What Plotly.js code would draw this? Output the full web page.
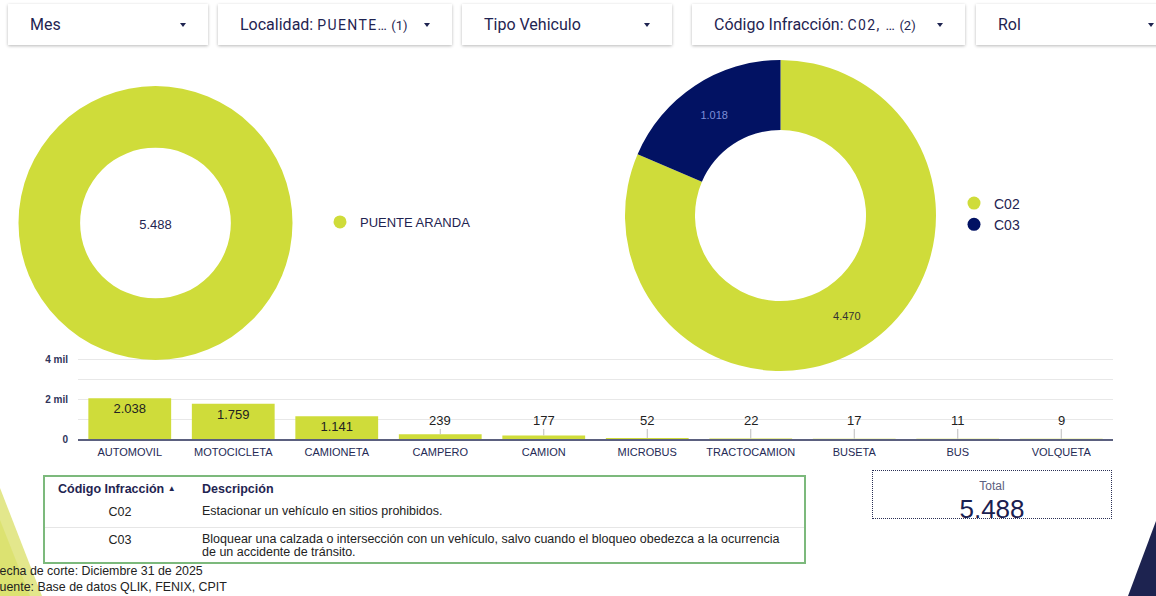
<!DOCTYPE html>
<html><head><meta charset="utf-8">
<script src="https://cdn.plot.ly/plotly-3.0.1.min.js"></script>
<style>
html,body{margin:0;padding:0;width:1156px;height:596px;overflow:hidden;background:#fff;font-family:"Liberation Sans",Arial,sans-serif;}
#deco{position:absolute;left:0;top:0;width:1156px;height:596px;z-index:0;}
#chart{position:absolute;left:0;top:0;width:1156px;height:596px;z-index:1;}
.ov{position:absolute;z-index:2;}
.filter{top:4px;height:41px;background:#fff;box-shadow:0 1px 3px rgba(0,0,0,0.28);font-family:Roboto,"Liberation Sans",sans-serif;color:#1f2451;font-size:16px;line-height:41px;box-sizing:border-box;padding-left:22px;white-space:nowrap;}
.filter .sub{font-size:14px;letter-spacing:1.4px;}
.filter .cnt{font-size:13px;margin-left:3px;}
.filter .arr{position:absolute;top:19px;width:0;height:0;border-left:3.5px solid transparent;border-right:3.5px solid transparent;border-top:4px solid #1f2451;}
.tbl{left:43px;top:475px;width:763px;height:89px;border:2px solid #7cb97c;box-sizing:border-box;font-family:"Liberation Sans",Arial,sans-serif;font-size:12.5px;color:#222;background:#fff;}
.tbl div{position:absolute;}
.hdr{font-weight:bold;color:#1f2451;}
.sep{left:0;right:0;height:1px;background:#e6e6e6;}
.total{left:872px;top:470px;width:240px;height:49px;border:1px dotted #2a2f55;box-sizing:border-box;text-align:center;font-family:"Liberation Sans",Arial,sans-serif;}
.foot{left:-8px;font-family:"Liberation Sans",Arial,sans-serif;font-size:12.4px;color:#222;}
</style>
</head><body>
<svg id="deco" width="1156" height="596">
  <polygon points="0,488 42,596 0,596" fill="#e3e78c"/>
  <polygon points="0,520 30,596 0,596" fill="#d5dd55" opacity="0.5"/>
  <polygon points="1156,521 1128,596 1156,596" fill="#1d2350"/>
</svg>
<div id="chart"></div>
<div id="filters"></div>
<div id="table" class="ov tbl"></div>
<div id="total" class="ov total"></div>
<div id="footer"></div>
<script>
// ---- data ----
var localidades = ["PUENTE ARANDA"];
var localidadValues = [5488];

var codigos = ["C02", "C03"];
var codigoValues = [4470, 1018];

var tiposVehiculo = ["AUTOMOVIL","MOTOCICLETA","CAMIONETA","CAMPERO","CAMION","MICROBUS","TRACTOCAMION","BUSETA","BUS","VOLQUETA"];
var tipoValues = [2038, 1759, 1141, 239, 177, 52, 22, 17, 11, 9];

var yTickVals = [0, 2000, 4000];
var yTickText = ["0", "2 mil", "4 mil"];

var tablaCodigos = ["C02", "C03"];
var tablaDescripciones = [
  "Estacionar un vehículo en sitios prohibidos.",
  "Bloquear una calzada o intersección con un vehículo, salvo cuando el bloqueo obedezca a la ocurrencia de un accidente de tránsito."
];

var filtros = [
  {label:"Mes", sub:"", cnt:""},
  {label:"Localidad: ", sub:"PUENTE…", cnt:"(1)"},
  {label:"Tipo Vehiculo", sub:"", cnt:""},
  {label:"Código Infracción: ", sub:"C02, …", cnt:"(2)"},
  {label:"Rol", sub:"", cnt:""}
];
var footerLines = ["Fecha de corte: Diciembre 31 de 2025", "Fuente: Base de datos QLIK, FENIX, CPIT"];

// ---- helpers ----
function fmt(n){ return String(n).replace(/\B(?=(\d{3})+(?!\d))/g, "."); }
function sum(a){ return a.reduce(function(s,v){return s+v;},0); }

var LIME = "#cfdc3a", NAVY = "#021263", TXT = "#1f2451";
var W = 1156, H = 596;
function px(x){ return x / W; }
function py(y){ return 1 - y / H; }

// ---- filters (HTML) ----
var fBoxes = [[8,208],[218,452],[462,672],[692,965],[976,1166]];
var fh = "";
filtros.forEach(function(f, i){
  var b = fBoxes[i];
  fh += '<div class="ov filter" style="left:'+b[0]+'px;width:'+(b[1]-b[0])+'px">' + f.label +
        (f.sub ? '<span class="sub">'+f.sub+'</span>' : '') +
        (f.cnt ? '<span class="cnt">'+f.cnt+'</span>' : '') +
        '<span class="arr" style="right:'+(i===4?12:22)+'px"></span></div>';
});
document.getElementById("filters").innerHTML = fh;

// ---- table (HTML) ----
var th = '<div class="hdr" style="left:13px;top:5px">Código Infracción <span style="font-size:8px;position:relative;top:-2px">▲</span></div>' +
         '<div class="hdr" style="left:157px;top:5px">Descripción</div>';
var rowTops = [28, 56];
tablaCodigos.forEach(function(c, i){
  th += '<div style="left:40px;width:70px;text-align:center;top:'+rowTops[i]+'px">'+c+'</div>';
  th += '<div style="left:157px;width:590px;top:'+rowTops[i]+'px;line-height:13px">'+tablaDescripciones[i]+'</div>';
});
th += '<div class="sep" style="top:50px"></div>';
document.getElementById("table").innerHTML = th;

// ---- total (HTML) ----
document.getElementById("total").innerHTML =
  '<div style="font-size:12px;color:#5c6080;margin-top:8px;line-height:14px">Total</div>' +
  '<div style="font-size:26px;color:#1a2050;line-height:26px;margin-top:3px">'+fmt(sum(codigoValues))+'</div>';

// ---- footer ----
var ft = "";
footerLines.forEach(function(t, i){
  ft += '<div class="ov foot" style="top:'+(564+i*16)+'px">'+t+'</div>';
});
document.getElementById("footer").innerHTML = ft;

// ---- plotly ----
var threshold = 500;
var barText = tipoValues.map(function(v){ return v >= threshold ? fmt(v) : ""; });

var traces = [
  {
    type: "pie", labels: localidades, values: localidadValues,
    hole: 0.55, sort: false, direction: "clockwise", rotation: 0,
    marker: {colors: [LIME], line: {width: 0}},
    textinfo: "none", showlegend: false,
    domain: {x: [px(18), px(293)], y: [py(360), py(86)]},
    title: {text: fmt(sum(localidadValues)), position: "middle center",
            font: {size: 13, color: TXT, family: "Liberation Sans, Arial"}}
  },
  {
    type: "pie", labels: codigos, values: codigoValues,
    hole: 0.55, sort: false, direction: "clockwise", rotation: 0,
    marker: {colors: [LIME, NAVY], line: {width: 0}},
    texttemplate: "%{value:,}", textposition: "inside", insidetextorientation: "horizontal",
    textfont: {size: 11, color: ["#333333", "#7d8ed8"], family: "Liberation Sans, Arial"},
    showlegend: false,
    domain: {x: [px(625), px(936)], y: [py(371), py(60)]}
  },
  {
    type: "bar", x: tiposVehiculo, y: tipoValues,
    marker: {color: LIME},
    text: barText, textposition: "inside", insidetextanchor: "end",
    constraintext: "none",
    textfont: {size: 13, color: "#222222", family: "Liberation Sans, Arial"},
    showlegend: false, hoverinfo: "x+y"
  },
  {
    type: "scatter", mode: "markers", x: [null], y: [null], name: localidades[0],
    marker: {color: LIME, size: 13, symbol: "circle"}, legend: "legend", showlegend: true
  },
  {
    type: "scatter", mode: "markers", x: [null], y: [null], name: codigos[0],
    marker: {color: LIME, size: 13, symbol: "circle"}, legend: "legend2", showlegend: true
  },
  {
    type: "scatter", mode: "markers", x: [null], y: [null], name: codigos[1],
    marker: {color: NAVY, size: 13, symbol: "circle"}, legend: "legend2", showlegend: true
  }
];

var annotations = [];
tiposVehiculo.forEach(function(c, i){
  if (tipoValues[i] < threshold) {
    annotations.push({
      x: c, y: tipoValues[i], xref: "x", yref: "y",
      ax: 0, ay: 950, ayref: "y",
      text: fmt(tipoValues[i]), showarrow: true, arrowhead: 0, arrowwidth: 1,
      arrowcolor: "#bdbdbd", standoff: 0, startstandoff: 0,
      font: {size: 13, color: "#222222", family: "Liberation Sans, Arial"}
    });
  }
});

var layout = {
  width: W, height: H,
  margin: {l: 0, r: 0, t: 0, b: 0},
  paper_bgcolor: "rgba(0,0,0,0)", plot_bgcolor: "rgba(0,0,0,0)",
  separators: ",.",
  font: {family: "Liberation Sans, Arial", color: TXT},
  bargap: 0.2,
  xaxis: {
    domain: [px(78), px(1113)], type: "category", categoryorder: "array", categoryarray: tiposVehiculo,
    showline: true, linecolor: "#5b607f", linewidth: 2, ticks: "", showgrid: false,
    tickfont: {size: 11, color: "#252a55", family: "Liberation Sans, Arial"},
    ticklabelstandoff: 2, fixedrange: true
  },
  yaxis: {
    domain: [py(439), py(357)], range: [0, 4100],
    tickvals: yTickVals, ticktext: yTickText, ticks: "",
    showgrid: true, gridcolor: "#e8e8e8", gridwidth: 1, zeroline: false,
    minor: {dtick: 1000, showgrid: true, gridcolor: "#e8e8e8", gridwidth: 1},
    tickfont: {size: 10, color: "#30355a", family: "Liberation Sans, Arial", weight: "bold"},
    ticklabelstandoff: 9, fixedrange: true
  },
  legend: {
    x: px(320), y: py(222), xanchor: "left", yanchor: "middle",
    font: {size: 13, color: TXT, family: "Liberation Sans, Arial"},
    bgcolor: "rgba(0,0,0,0)", itemwidth: 30
  },
  legend2: {
    x: px(954), y: py(214), xanchor: "left", yanchor: "middle",
    font: {size: 14, color: TXT, family: "Liberation Sans, Arial"},
    bgcolor: "rgba(0,0,0,0)", itemwidth: 30, tracegroupgap: 0
  },
  annotations: annotations
};

Plotly.newPlot("chart", traces, layout, {displayModeBar: false, staticPlot: true});
</script>
</body></html>
